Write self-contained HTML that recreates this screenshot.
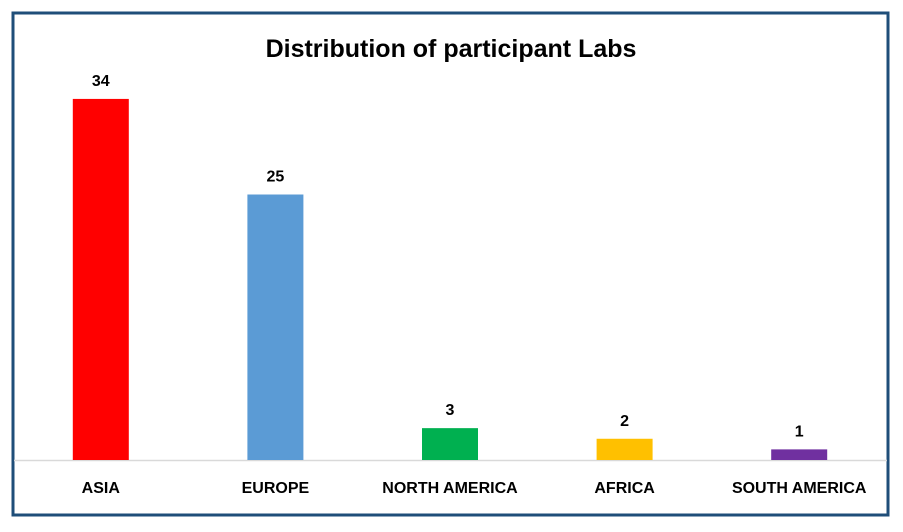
<!DOCTYPE html>
<html><head><meta charset="utf-8"><style>
html,body{margin:0;padding:0;background:#fff;width:903px;height:532px;overflow:hidden;font-family:"Liberation Sans",sans-serif}
</style></head><body>
<svg width="903" height="532">
<rect x="13" y="13" width="875" height="502" fill="#fff" stroke="#1f4e79" stroke-width="3"/>
<text x="451" y="57" text-anchor="middle" font-size="25" font-weight="bold" fill="#000">Distribution of participant Labs</text>
<g id="plot"></g>
</svg>
<script>
const categories=["ASIA","EUROPE","NORTH AMERICA","AFRICA","SOUTH AMERICA"];
const values=[34,25,3,2,1];
const colors=["#ff0000","#5b9bd5","#00b050","#ffc000","#7030a0"];
const ns="http://www.w3.org/2000/svg";
const g=document.getElementById('plot');
const x0=14,x1=887,base=460,scale=10.62;
const band=(x1-x0)/categories.length;
const bw=56;
function xc(i){return x0+band*(i+0.5)-0.5;}
function y(v){return base-v*scale;}
const ax=document.createElementNS(ns,'line');
ax.setAttribute('x1',x0);ax.setAttribute('x2',x1);ax.setAttribute('y1',base+0.5);ax.setAttribute('y2',base+0.5);
ax.setAttribute('stroke','#d9d9d9');ax.setAttribute('stroke-width','1.5');


g.appendChild(ax);
categories.forEach((c,i)=>{
 const r=document.createElementNS(ns,'rect');
 r.setAttribute('x',xc(i)-bw/2);r.setAttribute('y',y(values[i]));
 r.setAttribute('width',bw);r.setAttribute('height',base-y(values[i]));
 r.setAttribute('fill',colors[i]);
 
 
 g.appendChild(r);
 const t=document.createElementNS(ns,'text');
 t.setAttribute('x',xc(i));t.setAttribute('y',y(values[i])-13);
 t.setAttribute('text-anchor','middle');t.setAttribute('font-size','16');t.setAttribute('font-weight','bold');
 t.textContent=values[i];
 
 
 g.appendChild(t);
 const l=document.createElementNS(ns,'text');
 l.setAttribute('x',xc(i));l.setAttribute('y',493);
 l.setAttribute('text-anchor','middle');l.setAttribute('font-size','16');l.setAttribute('font-weight','bold');
 l.textContent=c;
 
 
 g.appendChild(l);
});
</script>
</body></html>
